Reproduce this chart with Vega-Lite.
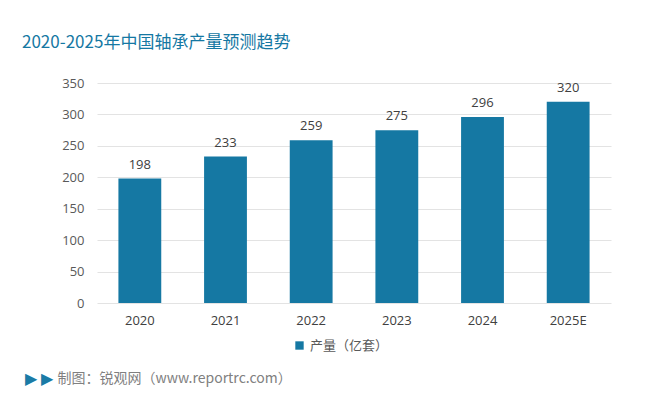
{
  "$schema": "https://vega.github.io/schema/vega-lite/v6.json",
  "width": 514,
  "height": 220,
  "autosize": {"type": "none"},
  "padding": {"left": 97, "top": 83, "right": 49, "bottom": 96},
  "background": "white",
  "config": {"view": {"stroke": null}},
  "title": {
    "text": "2020-2025年中国轴承产量预测趋势",
    "anchor": "start",
    "frame": "group",
    "dx": -75,
    "offset": 25,
    "fontSize": 17,
    "font": "Noto Sans CJK SC",
    "fontWeight": "normal",
    "color": "#1578a3"
  },
  "data": {
    "values": [
      {"year": "2020", "value": 198, "series": "产量（亿套）"},
      {"year": "2021", "value": 233, "series": "产量（亿套）"},
      {"year": "2022", "value": 259, "series": "产量（亿套）"},
      {"year": "2023", "value": 275, "series": "产量（亿套）"},
      {"year": "2024", "value": 296, "series": "产量（亿套）"},
      {"year": "2025E", "value": 320, "series": "产量（亿套）"}
    ]
  },
  "encoding": {
    "x": {
      "field": "year",
      "type": "nominal",
      "sort": null,
      "scale": {"paddingInner": 0.5, "paddingOuter": 0.25},
      "axis": {
        "labelAngle": 0,
        "labelFontSize": 13,
        "labelColor": "#404040",
        "labelFont": "Open Sans",
        "labelPadding": 11,
        "ticks": false,
        "domain": false,
        "title": "制图：锐观网（www.reportrc.com）",
        "titleFont": "Noto Sans CJK SC",
        "titleFontSize": 14,
        "titleFontWeight": "normal",
        "titleColor": "#808080",
        "titleAnchor": "start",
        "titleAlign": "left",
        "titleBaseline": "middle",
        "titleX": -40,
        "titleY": 75
      }
    },
    "y": {
      "field": "value",
      "type": "quantitative",
      "scale": {"domain": [0, 350]},
      "axis": {
        "values": [0, 50, 100, 150, 200, 250, 300, 350],
        "grid": true,
        "gridColor": "#e3e3e3",
        "domain": false,
        "ticks": false,
        "labelPadding": 13,
        "labelFontSize": 13,
        "labelColor": "#595959",
        "labelFont": "Open Sans",
        "title": "▶ ▶",
        "titleAngle": 0,
        "titleFontSize": 16,
        "titleColor": "#1a7ba6",
        "titleFontWeight": "normal",
        "titleAlign": "left",
        "titleBaseline": "middle",
        "titleX": -73,
        "titleY": 295
      }
    }
  },
  "layer": [
    {
      "mark": {"type": "bar", "color": "#1578a3"},
      "encoding": {
        "color": {
          "field": "series",
          "type": "nominal",
          "scale": {"range": ["#1578a3"]},
          "legend": {
            "title": null,
            "orient": "none",
            "legendX": 196,
            "legendY": 256,
            "symbolType": "square",
            "symbolSize": 70,
            "labelFontSize": 13,
            "labelColor": "#595959",
            "labelFont": "Noto Sans CJK SC"
          }
        }
      }
    },
    {
      "mark": {"type": "text", "baseline": "bottom", "dy": -7, "fontSize": 13, "font": "Open Sans", "color": "#404040"},
      "encoding": {"text": {"field": "value", "type": "quantitative"}}
    }
  ]
}
